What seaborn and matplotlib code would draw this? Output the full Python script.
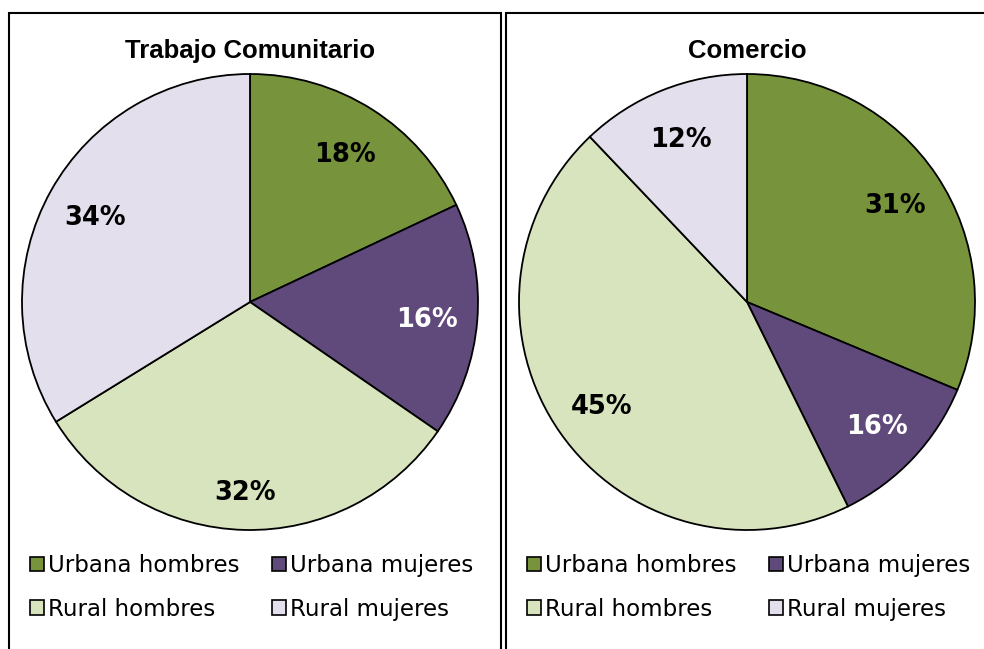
import matplotlib.pyplot as plt
from matplotlib.patches import Rectangle
import seaborn as sns

categorias = ['Urbana hombres', 'Urbana mujeres', 'Rural hombres', 'Rural mujeres']
colores = ['#77933C', '#604A7B', '#D7E4BD', '#E4DFEC']

# Trabajo Comunitario
tc_valores = [18.0, 16.6, 31.6, 33.8]
tc_etiquetas = ['18%', '16%', '32%', '34%']

# Comercio (tamaño de sectores, etiquetas tal como aparecen)
com_valores = [31.3, 11.4, 45.2, 12.1]
com_etiquetas = ['31%', '16%', '45%', '12%']

sns.set_theme(style='white')
plt.rcParams['font.family'] = ['DejaVu Sans']
plt.rcParams['text.color'] = 'black'

W, H = 984, 649
fig = plt.figure(figsize=(W / 100, H / 100), dpi=100)

# marcos de los dos paneles
for x0, x1 in [(9, 501), (506, 1000)]:
    fig.patches.append(Rectangle((x0 / W, -0.1), (x1 - x0) / W, (H - 13) / H + 0.1,
                                 transform=fig.transFigure, fill=False,
                                 edgecolor='black', linewidth=1.5))


def dibujar(cx, titulo, valores, etiquetas, ajuste=None):
    r = 228
    cy = 302
    ax = fig.add_axes([(cx - r) / W, (H - cy - r) / H, 2 * r / W, 2 * r / H])
    wedges, textos = ax.pie(valores, labels=etiquetas, colors=colores, startangle=90,
                            counterclock=False, labeldistance=0.78,
                            wedgeprops={'edgecolor': 'black', 'linewidth': 1.3},
                            textprops={'fontsize': 18.5, 'fontweight': 'bold',
                                       'color': 'black'})
    for t in textos:
        t.set_ha('center')
        t.set_va('center_baseline')
    textos[1].set_color('white')
    if ajuste:
        for i, f in ajuste.items():
            x, y = textos[i].get_position()
            textos[i].set_position((x * f, y * f))
    ax.set_xlim(-1.0, 1.0)
    ax.set_ylim(-1.0, 1.0)
    ax.set_aspect('auto')
    ax.axis('off')
    for w in wedges:
        w.set_clip_on(False)
    fig.text(cx / W, 1 - 51 / H, titulo, ha='center', va='center',
             fontsize=18.5, fontweight='bold', family=['Liberation Sans', 'DejaVu Sans'])
    orden = [0, 2, 1, 3]
    leg = fig.legend([wedges[i] for i in orden], [categorias[i] for i in orden],
                     loc='upper left',
                     bbox_to_anchor=((cx - 220) / W, 1 - 554 / H),
                     ncol=2, frameon=False, fontsize=16.5,
                     handlelength=0.6, handleheight=0.6, handletextpad=0.2,
                     columnspacing=1.4, labelspacing=0.9, borderaxespad=0,
                     borderpad=0)
    for h in leg.legend_handles:
        h.set_edgecolor('black')
        h.set_linewidth(1.2)
    for t in leg.get_texts():
        t.set_color('black')


dibujar(250, 'Trabajo Comunitario', tc_valores, tc_etiquetas, ajuste={2: 1.06})
dibujar(747, 'Comercio', com_valores, com_etiquetas)

fig.savefig('out.png', dpi=100)
